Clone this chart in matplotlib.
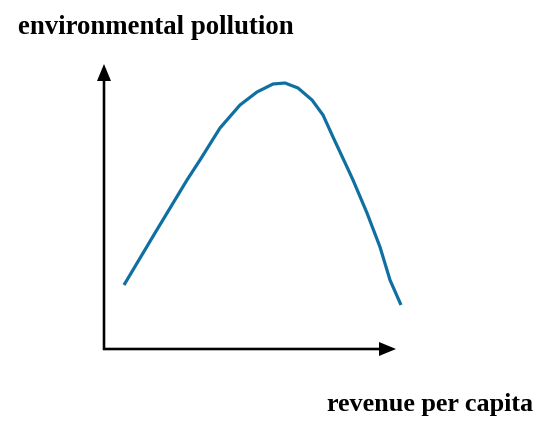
import matplotlib
matplotlib.use("Agg")
import matplotlib.pyplot as plt

# Kuznets-type curve (arbitrary units, origin at axes corner)
revenue = [20, 51, 83, 96, 116, 136, 153, 169, 181, 194, 208, 219, 229, 243, 249, 263, 276, 286, 297]
pollution = [64, 116, 169, 189, 221, 244, 257, 265, 266, 261, 249, 234, 212, 182, 169, 136, 102, 69, 44]

X_LABEL = "revenue per capita"
Y_LABEL = "environmental pollution"
CURVE_COLOR = "#0f6fa1"

fig = plt.figure(figsize=(5.5, 4.34), dpi=100)
ax = fig.add_axes([0, 0, 1, 1])
ax.set_xlim(-104, 446)
ax.set_ylim(-85, 349)
ax.axis("off")

# axes drawn as arrows
ax.arrow(0, -1, 0, 286, width=2.6, head_width=14, head_length=17,
         length_includes_head=True, color="black", lw=0)
ax.arrow(-1, 0, 293, 0, width=2.6, head_width=14, head_length=17,
         length_includes_head=True, color="black", lw=0)

ax.plot(revenue, pollution, color=CURVE_COLOR, lw=2.3, solid_capstyle="butt",
        solid_joinstyle="round")

font = dict(family=["Liberation Serif", "DejaVu Serif"], fontweight="bold")
ax.text(-86, 322, Y_LABEL, ha="left", va="center", fontsize=19.3, **font)
ax.text(429, -56, X_LABEL, ha="right", va="center", fontsize=18.8, **font)

fig.savefig("out.png", dpi=100)
